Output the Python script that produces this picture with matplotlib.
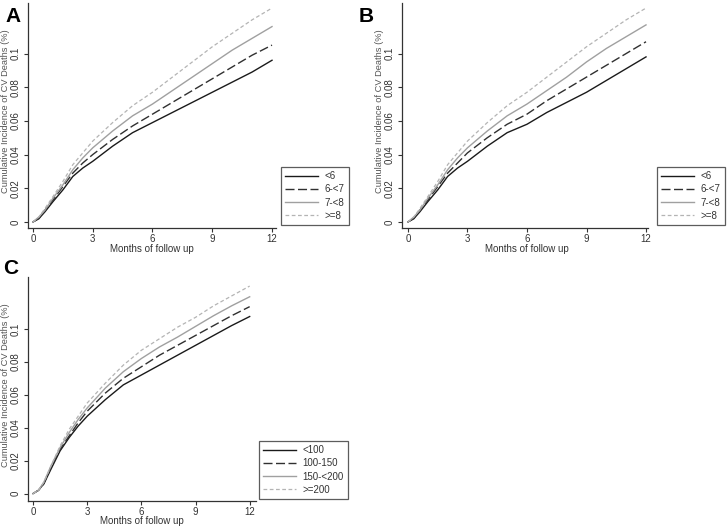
import matplotlib
matplotlib.use("Agg")
import matplotlib.pyplot as plt

plt.rcParams['font.family'] = ['Liberation Sans', 'DejaVu Sans']

MONTHS = [0, 0.3, 0.6, 1, 1.5, 2, 2.5, 3, 4, 5, 6, 7, 8, 9, 10, 11, 12]

# Panel A
a_lt6 = [0, 0.002, 0.006, 0.012, 0.019, 0.027, 0.032, 0.036, 0.045, 0.053, 0.059, 0.065, 0.071, 0.077, 0.083, 0.089, 0.096]
a_6to7 = [0, 0.002, 0.007, 0.013, 0.021, 0.029, 0.035, 0.040, 0.049, 0.057, 0.064, 0.071, 0.078, 0.085, 0.092, 0.099, 0.105]
a_7to8 = [0, 0.003, 0.007, 0.014, 0.022, 0.031, 0.038, 0.044, 0.054, 0.063, 0.070, 0.078, 0.086, 0.094, 0.102, 0.109, 0.116]
a_ge8 = [0, 0.003, 0.008, 0.015, 0.024, 0.034, 0.041, 0.048, 0.059, 0.069, 0.077, 0.086, 0.095, 0.104, 0.112, 0.120, 0.127]

# Panel B
b_lt6 = [0, 0.002, 0.006, 0.012, 0.019, 0.027, 0.032, 0.036, 0.045, 0.053, 0.058, 0.065, 0.071, 0.077, 0.084, 0.091, 0.098]
b_6to7 = [0, 0.002, 0.007, 0.013, 0.021, 0.029, 0.035, 0.041, 0.050, 0.058, 0.064, 0.072, 0.079, 0.086, 0.093, 0.100, 0.107]
b_7to8 = [0, 0.003, 0.007, 0.014, 0.022, 0.031, 0.038, 0.044, 0.054, 0.063, 0.070, 0.078, 0.086, 0.095, 0.103, 0.110, 0.117]
b_ge8 = [0, 0.003, 0.008, 0.015, 0.024, 0.034, 0.041, 0.048, 0.059, 0.069, 0.077, 0.086, 0.095, 0.104, 0.112, 0.120, 0.127]

# Panel C
c_lt100 = [0, 0.002, 0.006, 0.015, 0.026, 0.034, 0.041, 0.047, 0.057, 0.066, 0.072, 0.078, 0.084, 0.090, 0.096, 0.102, 0.1075]
c_100to150 = [0, 0.002, 0.006, 0.016, 0.027, 0.035, 0.043, 0.050, 0.061, 0.070, 0.077, 0.084, 0.090, 0.096, 0.102, 0.108, 0.1135]
c_150to200 = [0, 0.002, 0.007, 0.017, 0.028, 0.037, 0.045, 0.052, 0.064, 0.074, 0.082, 0.089, 0.095, 0.1015, 0.108, 0.114, 0.1195]
c_ge200 = [0, 0.002, 0.007, 0.017, 0.029, 0.039, 0.047, 0.055, 0.067, 0.078, 0.087, 0.094, 0.101, 0.107, 0.114, 0.120, 0.126]

LABELS_AB = ["<6", "6-<7", "7-<8", ">=8"]
LABELS_C = ["<100", "100-150", "150-<200", ">=200"]
Y_TICKS = [0, 0.02, 0.04, 0.06, 0.08, 0.1]
Y_TICK_LABELS = ["0", "0.02", "0.04", "0.06", "0.08", "0.1"]
X_TICKS = [0, 3, 6, 9, 12]

STYLES = [
    dict(color='#1a1a1a', linestyle='-', lw=1.0),
    dict(color='#303030', linestyle=(0, (6.5, 2.5)), lw=1.0),
    dict(color='#a0a0a0', linestyle='-', lw=1.0),
    dict(color='#b4b4b4', linestyle=(0, (3, 2)), lw=0.9),
]

W, H = 728, 526
fig = plt.figure(figsize=(W / 100, H / 100), dpi=100)


def px_axes(left, top, right, bottom):
    return fig.add_axes([left / W, 1 - bottom / H, (right - left) / W, (bottom - top) / H])


def style_ax(ax, xlim, ylim, ylab_xy, xlab_xy):
    ax.set_xlim(*xlim)
    ax.set_ylim(*ylim)
    for s in ['top', 'right']:
        ax.spines[s].set_visible(False)
    for s in ['left', 'bottom']:
        ax.spines[s].set_color('#333333')
        ax.spines[s].set_linewidth(0.9)
    ax.set_xticks(X_TICKS)
    ax.set_yticks(Y_TICKS)
    ax.set_yticklabels(Y_TICK_LABELS, rotation=90, va='center')
    ax.tick_params(axis='both', labelsize=7, length=3, width=0.8, color='#333333',
                   labelcolor='#333333', pad=2)
    ax.tick_params(axis='x', pad=1)
    ax.set_xlabel("Months of follow up", fontsize=7, color='#333333', va='top')
    ax.set_ylabel("Cumulative Incidence of CV Deaths (%)", fontsize=6.7, color='#555555',
                  va='center')
    ax.xaxis.set_label_coords(xlab_xy[0] / W, 1 - xlab_xy[1] / H, transform=fig.transFigure)
    ax.yaxis.set_label_coords(ylab_xy[0] / W, 1 - ylab_xy[1] / H, transform=fig.transFigure)


def legend_at(ax, handles, labels, x, y):
    leg = ax.legend(handles, labels, loc='upper left', bbox_to_anchor=(x / W, 1 - y / H),
                    bbox_transform=fig.transFigure, borderaxespad=0, fontsize=7,
                    frameon=True, fancybox=False, handlelength=3.4, handletextpad=0.6,
                    labelspacing=0.32, borderpad=0.45, labelcolor='#333333')
    leg.get_frame().set_edgecolor('#333333')
    leg.get_frame().set_linewidth(0.9)


# Panel A
axA = px_axes(28, 3, 276, 228)
lines = []
for series, st in zip([a_lt6, a_6to7, a_7to8, a_ge8], STYLES):
    lines.append(axA.plot(MONTHS, series, **st)[0])
style_ax(axA, (-0.25, 12.2), (-0.0036, 0.130), (6, 111), (152, 243.5))
legend_at(axA, lines, LABELS_AB, 281, 167)

# Panel B
axB = px_axes(402, 3, 648, 228)
lines = []
for series, st in zip([b_lt6, b_6to7, b_7to8, b_ge8], STYLES):
    lines.append(axB.plot(MONTHS, series, **st)[0])
style_ax(axB, (-0.3, 12.1), (-0.0036, 0.130), (380, 111), (527, 243.5))
legend_at(axB, lines, LABELS_AB, 657, 167)

# Panel C
axC = px_axes(28, 277, 256, 501)
lines = []
for series, st in zip([c_lt100, c_100to150, c_150to200, c_ge200], STYLES):
    lines.append(axC.plot(MONTHS, series, **st)[0])
style_ax(axC, (-0.28, 12.35), (-0.0045, 0.1315), (6, 385), (142, 516))
legend_at(axC, lines, LABELS_C, 259, 441)

fig.text(5 / W, 1 - 7 / H, "A", fontsize=15, fontweight='bold', va='top', ha='left')
fig.text(359 / W, 1 - 7 / H, "B", fontsize=15, fontweight='bold', va='top', ha='left')
fig.text(3 / W, 1 - 259 / H, "C", fontsize=15, fontweight='bold', va='top', ha='left')

fig.savefig("out.png", dpi=100)
